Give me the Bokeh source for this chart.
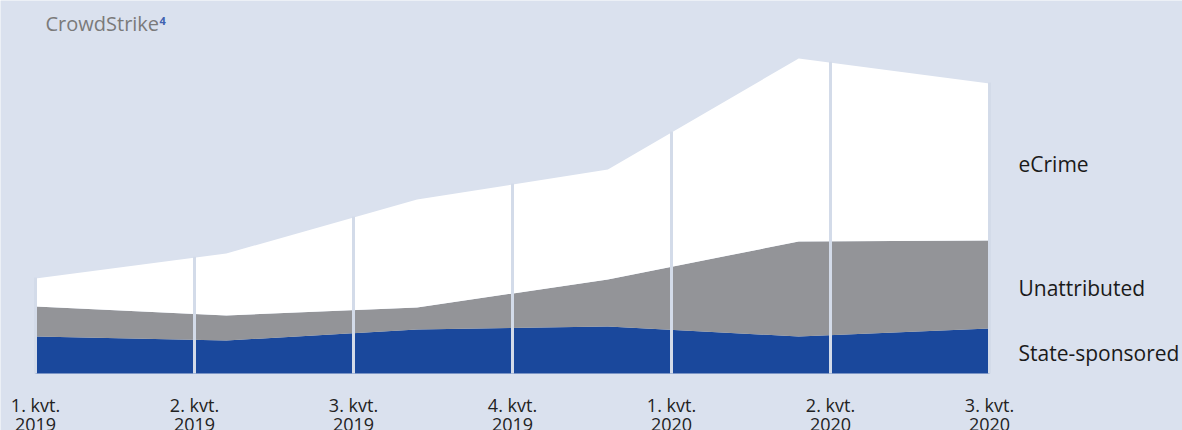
import numpy as np
from bokeh.plotting import figure
from bokeh.models import Range1d, ColumnDataSource
from bokeh.core.properties import value
from bokeh.embed import file_html
from bokeh.resources import INLINE

# ---- data (arbitrary units) ----
quarters = ["1. kvt.\n2019", "2. kvt.\n2019", "3. kvt.\n2019", "4. kvt.\n2019",
            "1. kvt.\n2020", "2. kvt.\n2020", "3. kvt.\n2020"]
state_sponsored = [37, 33, 44, 47, 37, 45]
unattributed = [30, 25, 22, 47, 95, 88]
ecrime = [28, 62, 108, 110, 183, 157]
series_names = ["State-sponsored", "Unattributed", "eCrime"]

BG = "#dae1ee"
BLUE = "#1a489c"
GREY = "#939498"
WHITE = "#ffffff"
FONT = "Open Sans"

n_pts = len(state_sponsored)
xs = np.linspace(0, len(quarters) - 1, n_pts)

src = ColumnDataSource(dict(x=xs, s=state_sponsored, u=unattributed, e=ecrime))

W, H = 1182, 430
px_per_tick = 159.0
left_px = 35.0
base_px = 373.0

p = figure(width=W, height=H, output_backend="svg", toolbar_location=None,
           min_border_left=0, min_border_right=0, min_border_top=0, min_border_bottom=0,
           x_range=Range1d(-left_px / px_per_tick, (W - left_px) / px_per_tick),
           y_range=Range1d(-(H - base_px), base_px))
p.background_fill_color = BG
p.border_fill_color = BG
p.outline_line_color = None
p.grid.visible = False
p.axis.visible = False

p.varea_stack(stackers=["s", "u", "e"], x="x", color=[BLUE, GREY, WHITE], source=src)

# vertical separators at each quarter, up to the top of the stack
totals = np.array(state_sponsored) + np.array(unattributed) + np.array(ecrime)
qx = np.arange(len(quarters))
tops = np.interp(qx, xs, totals)
p.segment(x0=qx, y0=np.zeros(len(qx)), x1=qx, y1=tops + 1, line_color="#d3dbe9", line_width=3)

# quarter labels (category axis), two lines each
line1 = [q.split("\n")[0] for q in quarters]
line2 = [q.split("\n")[1] for q in quarters]
p.text(x=qx, y=[-(404 - base_px)] * len(qx), text=line1,
       text_font=value(FONT), text_font_size="18px", text_color="#222222",
       text_baseline="alphabetic", text_align="center")
p.text(x=qx, y=[-(423.5 - base_px)] * len(qx), text=line2,
       text_font=value(FONT), text_font_size="18px", text_color="#222222",
       text_baseline="alphabetic", text_align="center")

# series labels on the right
lab_x = (1018 - left_px) / px_per_tick
p.text(x=[lab_x] * 3, y=[base_px - 352, base_px - 287, base_px - 163], text=series_names,
       text_font=value(FONT), text_font_size="21px", text_color="#1a1a1a",
       text_baseline="middle", text_align="left")

# source title
p.text(x=[(45 - left_px) / px_per_tick], y=[base_px - 23], text=["CrowdStrike"],
       text_font=value(FONT), text_font_size="20px", text_color="#7a7a7a",
       text_baseline="middle", text_align="left")
p.text(x=[(159 - left_px) / px_per_tick], y=[base_px - 20], text=["4"],
       text_font=value(FONT), text_font_size="11px", text_color="#3f62b0",
       text_baseline="middle", text_align="left", text_font_style="bold")

open("out.html", "w").write(file_html(p, INLINE))
